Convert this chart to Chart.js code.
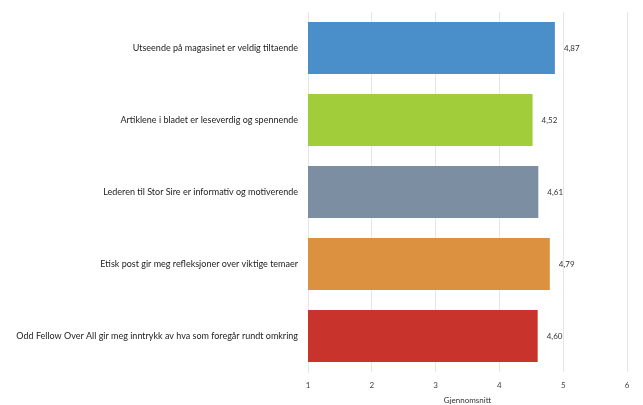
<!DOCTYPE html>
<html>
<head>
<meta charset="utf-8">
<script src="https://cdn.jsdelivr.net/npm/chart.js@4"></script>
<style>
    html, body { margin: 0; padding: 0; background: #fff; }
    #wrap { width: 643px; height: 405px; position: relative; }
</style>
</head>
<body>
<div id="wrap"><canvas id="chartSnitt"></canvas></div>
<script>
// Spørsmål og gjennomsnitt
const categories = [
    'Utseende på magasinet er veldig tiltaende',
    'Artiklene i bladet er leseverdig og spennende',
    'Lederen til Stor Sire er informativ og motiverende',
    'Etisk post gir meg refleksjoner over viktige temaer',
    'Odd Fellow Over All gir meg inntrykk av hva som foregår rundt omkring'
];
const averages = [4.87, 4.52, 4.61, 4.79, 4.60];
const barColors = ['#4b8fca', '#a2cd3a', '#7b8ea2', '#dc9140', '#c8332b'];
const xTicks = [1, 2, 3, 4, 5, 6];
const xTitle = 'Gjennomsnitt';

// Verdien skrives til høyre for hver stolpe, med komma
const valueLabels = {
    id: 'valueLabels',
    afterDatasetsDraw(chart) {
        const ctx = chart.ctx;
        const meta = chart.getDatasetMeta(0);
        ctx.save();
        ctx.font = '8px Lato';
        ctx.fillStyle = '#333';
        ctx.textBaseline = 'middle';
        meta.data.forEach(function (bar, i) {
            ctx.fillText(averages[i].toFixed(2).replace('.', ','), bar.x + 9, bar.y);
        });
        ctx.restore();
    }
};

const snitt = new Chart(document.getElementById('chartSnitt'), {
    type: 'bar',
    data: {
        labels: categories,
        datasets: [{
            data: averages,
            backgroundColor: barColors,
            borderWidth: 0,
            categoryPercentage: 0.72,
            barPercentage: 1
        }]
    },
    options: {
        indexAxis: 'y',
        responsive: true,
        maintainAspectRatio: false,
        animation: false,
        layout: { padding: { left: 8, right: 16, top: 12, bottom: 0 } },
        plugins: {
            legend: { display: false },
            tooltip: { enabled: false }
        },
        scales: {
            x: {
                min: 1,
                max: 6,
                afterBuildTicks: function (scale) {
                    scale.ticks = xTicks.map(v => ({ value: v }));
                },
                ticks: { font: { size: 8, family: 'Lato' }, color: '#444', padding: 9 },
                grid: { color: '#e6e6e6', drawTicks: false },
                border: { display: false },
                title: { display: true, text: xTitle, font: { size: 8, family: 'Lato' }, color: '#333', padding: { top: 1, bottom: 0 } },
                afterFit: function (scale) { scale.height = 33; }
            },
            y: {
                ticks: { font: { size: 9, family: 'Lato' }, color: '#222', padding: 2 },
                grid: { display: false },
                border: { display: true, color: '#e6e6e6' },
                afterFit: function (scale) { scale.width = 300; }
            }
        }
    },
    plugins: [valueLabels]
});
</script>
</body>
</html>
